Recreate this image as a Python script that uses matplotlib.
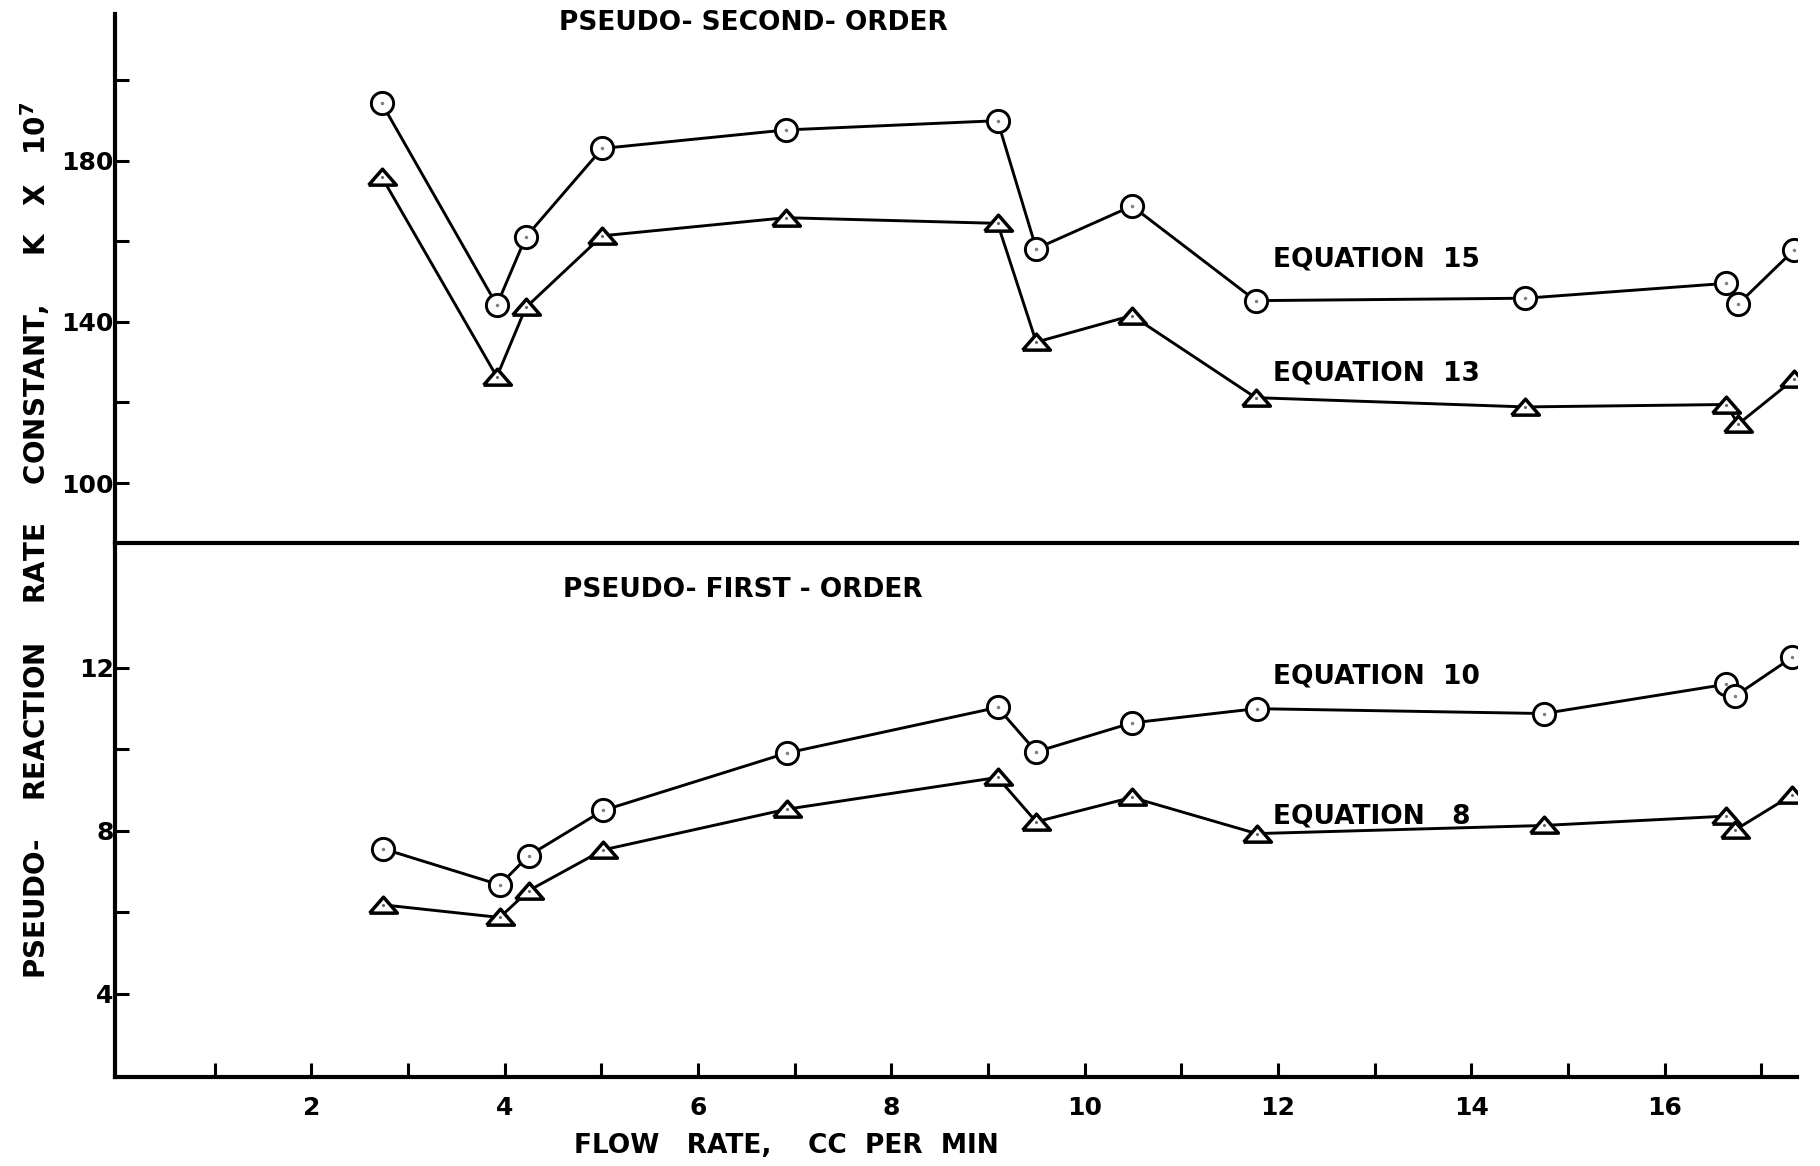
import matplotlib.pyplot as plt

# flow rate, cc per min
flow_upper = [2.73, 3.92, 4.22, 5.01, 6.91, 9.10, 9.50, 10.49, 11.77, 14.56, 16.64, 16.76, 17.34]
flow_lower = [2.74, 3.95, 4.25, 5.02, 6.92, 9.10, 9.50, 10.49, 11.78, 14.75, 16.64, 16.73, 17.32]

# pseudo-second-order, K x 10^7
eq15 = [194.3, 144.2, 161.1, 183.1, 187.7, 190.0, 158.2, 168.8, 145.3, 145.9, 149.6, 144.4, 157.9]
eq13 = [176.0, 126.4, 143.6, 161.4, 165.9, 164.5, 135.0, 141.6, 121.2, 118.9, 119.5, 114.6, 125.8]

# pseudo-first-order, K x 10^7
eq10 = [7.56, 6.67, 7.39, 8.50, 9.91, 11.03, 9.94, 10.65, 11.00, 10.88, 11.60, 11.31, 12.26]
eq8 = [6.18, 5.87, 6.53, 7.53, 8.53, 9.31, 8.22, 8.82, 7.93, 8.13, 8.36, 8.02, 8.88]

upper_ticks = [100, 120, 140, 160, 180, 200]
upper_ticklabels = ['100', '', '140', '', '180', '']
lower_ticks = [4, 6, 8, 10, 12]
lower_ticklabels = ['4', '', '8', '', '12']
x_ticks = list(range(1, 18))
x_ticklabels = ['' if i % 2 else str(i) for i in x_ticks]

plt.rcParams['font.family'] = 'DejaVu Sans'
plt.rcParams['font.weight'] = 'bold'

fig = plt.figure(figsize=(18.2, 11.66), dpi=100)
W, H = 1820, 1166
left, right = 115 / W, 1797 / W
sep = 1 - 543 / H
ax_lo = fig.add_axes([left, 1 - 1077 / H, right - left, sep - (1 - 1077 / H)])
ax_up = fig.add_axes([left, sep, right - left, (1 - 14 / H) - sep])
ax_lo.patch.set_visible(False)
ax_up.patch.set_visible(False)

# flattened triangle marker
tri = [(-1.0, -0.55), (1.0, -0.55), (0.0, 0.6), (-1.0, -0.55)]

line_kw = dict(color='black', lw=2.1, zorder=2)
circ_kw = dict(marker='o', ms=16, mfc='white', mec='black', mew=2.1, zorder=3)
tri_kw = dict(marker=tri, ms=20, mfc='white', mec='black', mew=2.5, zorder=3)

for ax, xs, ys_c, ys_t in [(ax_up, flow_upper, eq15, eq13), (ax_lo, flow_lower, eq10, eq8)]:
    ax.plot(xs, ys_c, **line_kw)
    ax.plot(xs, ys_c, ls='none', **circ_kw)
    ax.plot(xs, ys_t, **line_kw)
    ax.plot(xs, ys_t, ls='none', **tri_kw)
    ax.plot(xs, ys_c, ls='none', marker='.', ms=3, color='0.5', zorder=4)
    ax.plot(xs, ys_t, ls='none', marker='.', ms=2.5, color='0.4', zorder=4)
    ax.set_xlim(-0.03, 17.37)
    ax.spines['top'].set_visible(False)
    ax.spines['right'].set_visible(False)
    for s in ['left', 'bottom']:
        ax.spines[s].set_linewidth(3.0)
    ax.tick_params(axis='y', direction='in', length=10, width=2.2, pad=1, labelsize=18)

ax_up.set_ylim(85.1, 216.5)
ax_up.set_yticks(upper_ticks)
ax_up.set_yticklabels(upper_ticklabels)
ax_up.set_xticks([])

ax_lo.set_ylim(1.95, 15.07)
ax_lo.set_yticks(lower_ticks)
ax_lo.set_yticklabels(lower_ticklabels)
ax_lo.set_xticks(x_ticks)
ax_lo.set_xticklabels(x_ticklabels)
ax_lo.tick_params(axis='x', direction='in', length=10, width=2.2, pad=14, labelsize=18)

# curve labels
lab_kw = dict(fontsize=19, va='center', ha='left')
ax_up.text(11.95, 155.4, 'EQUATION  15', **lab_kw)
ax_up.text(11.95, 127.1, 'EQUATION  13', **lab_kw)
ax_lo.text(11.95, 11.78, 'EQUATION  10', **lab_kw)
ax_lo.text(11.95, 8.36, 'EQUATION   8', **lab_kw)

fig.text(753 / W, 1 - 23 / H, 'PSEUDO- SECOND- ORDER', fontsize=19, ha='center', va='center')
fig.text(743 / W, 1 - 590 / H, 'PSEUDO- FIRST - ORDER', fontsize=19, ha='center', va='center')
fig.text(786 / W, 1 - 1146 / H, 'FLOW   RATE,    CC  PER  MIN', fontsize=19, ha='center', va='center')
fig.text(35 / W, 1 - 540 / H, 'PSEUDO-    REACTION    RATE    CONSTANT,     K   X   10$^{\\mathbf{7}}$',
         fontsize=20, rotation=90, ha='center', va='center')

fig.savefig('out.png', dpi=100, facecolor='white')
